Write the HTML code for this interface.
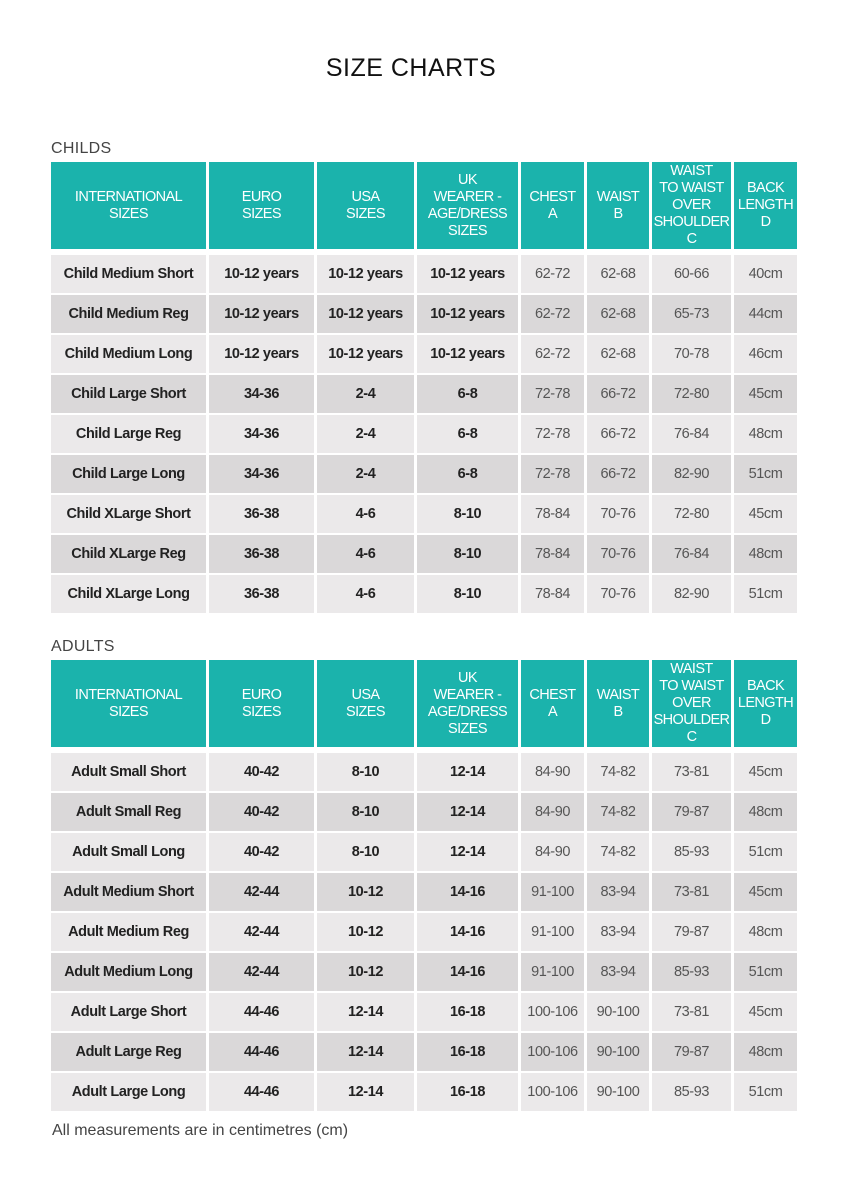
<!DOCTYPE html>
<html><head><meta charset="utf-8"><style>
body{margin:0;background:#fff;font-family:"Liberation Sans",sans-serif;}
.page{position:relative;width:848px;height:1200px;overflow:hidden;}
.title{position:absolute;left:0;width:822px;top:54px;text-align:center;font-size:25px;color:#111;letter-spacing:0.5px;}
.lab{position:absolute;left:51px;font-size:16px;color:#444;letter-spacing:0.3px;}
.tbl{position:absolute;left:51px;width:746px;}
.g{display:grid;grid-template-columns:155px 105px 97px 101px 63px 62px 79px 63px;column-gap:3px;}
.hd{height:87px;margin-bottom:6px;}
.hd div{background:#1bb3ac;color:#fff;font-size:14.5px;line-height:17px;display:flex;align-items:center;justify-content:center;text-align:center;letter-spacing:-0.6px;}
.r{height:38px;margin-bottom:2px;}
.r div{display:flex;align-items:center;justify-content:center;font-size:14.5px;color:#555;letter-spacing:-0.4px;}
.r div.b{font-weight:bold;color:#222;}
.r.l div{background:#ebe9ea;}
.r.d div{background:#dad8d9;}
.foot{position:absolute;left:52px;top:1122px;font-size:16px;color:#444;}
</style></head><body><div class="page">
<div class="title">SIZE CHARTS</div>
<div class="lab" style="top:140px">CHILDS</div>
<div class="tbl" style="top:162px">
<div class="g hd"><div>INTERNATIONAL<br>SIZES</div><div>EURO<br>SIZES</div><div>USA<br>SIZES</div><div>UK<br>WEARER -<br>AGE/DRESS<br>SIZES</div><div>CHEST<br>A</div><div>WAIST<br>B</div><div>WAIST<br>TO WAIST<br>OVER<br>SHOULDER<br>C</div><div>BACK<br>LENGTH<br>D</div></div>
<div class="g r l"><div class="b">Child Medium Short</div><div class="b">10-12 years</div><div class="b">10-12 years</div><div class="b">10-12 years</div><div>62-72</div><div>62-68</div><div>60-66</div><div>40cm</div></div>
<div class="g r d"><div class="b">Child Medium Reg</div><div class="b">10-12 years</div><div class="b">10-12 years</div><div class="b">10-12 years</div><div>62-72</div><div>62-68</div><div>65-73</div><div>44cm</div></div>
<div class="g r l"><div class="b">Child Medium Long</div><div class="b">10-12 years</div><div class="b">10-12 years</div><div class="b">10-12 years</div><div>62-72</div><div>62-68</div><div>70-78</div><div>46cm</div></div>
<div class="g r d"><div class="b">Child Large Short</div><div class="b">34-36</div><div class="b">2-4</div><div class="b">6-8</div><div>72-78</div><div>66-72</div><div>72-80</div><div>45cm</div></div>
<div class="g r l"><div class="b">Child Large Reg</div><div class="b">34-36</div><div class="b">2-4</div><div class="b">6-8</div><div>72-78</div><div>66-72</div><div>76-84</div><div>48cm</div></div>
<div class="g r d"><div class="b">Child Large Long</div><div class="b">34-36</div><div class="b">2-4</div><div class="b">6-8</div><div>72-78</div><div>66-72</div><div>82-90</div><div>51cm</div></div>
<div class="g r l"><div class="b">Child XLarge Short</div><div class="b">36-38</div><div class="b">4-6</div><div class="b">8-10</div><div>78-84</div><div>70-76</div><div>72-80</div><div>45cm</div></div>
<div class="g r d"><div class="b">Child XLarge Reg</div><div class="b">36-38</div><div class="b">4-6</div><div class="b">8-10</div><div>78-84</div><div>70-76</div><div>76-84</div><div>48cm</div></div>
<div class="g r l"><div class="b">Child XLarge Long</div><div class="b">36-38</div><div class="b">4-6</div><div class="b">8-10</div><div>78-84</div><div>70-76</div><div>82-90</div><div>51cm</div></div>
</div>
<div class="lab" style="top:638px">ADULTS</div>
<div class="tbl" style="top:660px">
<div class="g hd"><div>INTERNATIONAL<br>SIZES</div><div>EURO<br>SIZES</div><div>USA<br>SIZES</div><div>UK<br>WEARER -<br>AGE/DRESS<br>SIZES</div><div>CHEST<br>A</div><div>WAIST<br>B</div><div>WAIST<br>TO WAIST<br>OVER<br>SHOULDER<br>C</div><div>BACK<br>LENGTH<br>D</div></div>
<div class="g r l"><div class="b">Adult Small Short</div><div class="b">40-42</div><div class="b">8-10</div><div class="b">12-14</div><div>84-90</div><div>74-82</div><div>73-81</div><div>45cm</div></div>
<div class="g r d"><div class="b">Adult Small Reg</div><div class="b">40-42</div><div class="b">8-10</div><div class="b">12-14</div><div>84-90</div><div>74-82</div><div>79-87</div><div>48cm</div></div>
<div class="g r l"><div class="b">Adult Small Long</div><div class="b">40-42</div><div class="b">8-10</div><div class="b">12-14</div><div>84-90</div><div>74-82</div><div>85-93</div><div>51cm</div></div>
<div class="g r d"><div class="b">Adult Medium Short</div><div class="b">42-44</div><div class="b">10-12</div><div class="b">14-16</div><div>91-100</div><div>83-94</div><div>73-81</div><div>45cm</div></div>
<div class="g r l"><div class="b">Adult Medium Reg</div><div class="b">42-44</div><div class="b">10-12</div><div class="b">14-16</div><div>91-100</div><div>83-94</div><div>79-87</div><div>48cm</div></div>
<div class="g r d"><div class="b">Adult Medium Long</div><div class="b">42-44</div><div class="b">10-12</div><div class="b">14-16</div><div>91-100</div><div>83-94</div><div>85-93</div><div>51cm</div></div>
<div class="g r l"><div class="b">Adult Large Short</div><div class="b">44-46</div><div class="b">12-14</div><div class="b">16-18</div><div>100-106</div><div>90-100</div><div>73-81</div><div>45cm</div></div>
<div class="g r d"><div class="b">Adult Large Reg</div><div class="b">44-46</div><div class="b">12-14</div><div class="b">16-18</div><div>100-106</div><div>90-100</div><div>79-87</div><div>48cm</div></div>
<div class="g r l"><div class="b">Adult Large Long</div><div class="b">44-46</div><div class="b">12-14</div><div class="b">16-18</div><div>100-106</div><div>90-100</div><div>85-93</div><div>51cm</div></div>
</div>
<div class="foot">All measurements are in centimetres (cm)</div>
</div></body></html>
